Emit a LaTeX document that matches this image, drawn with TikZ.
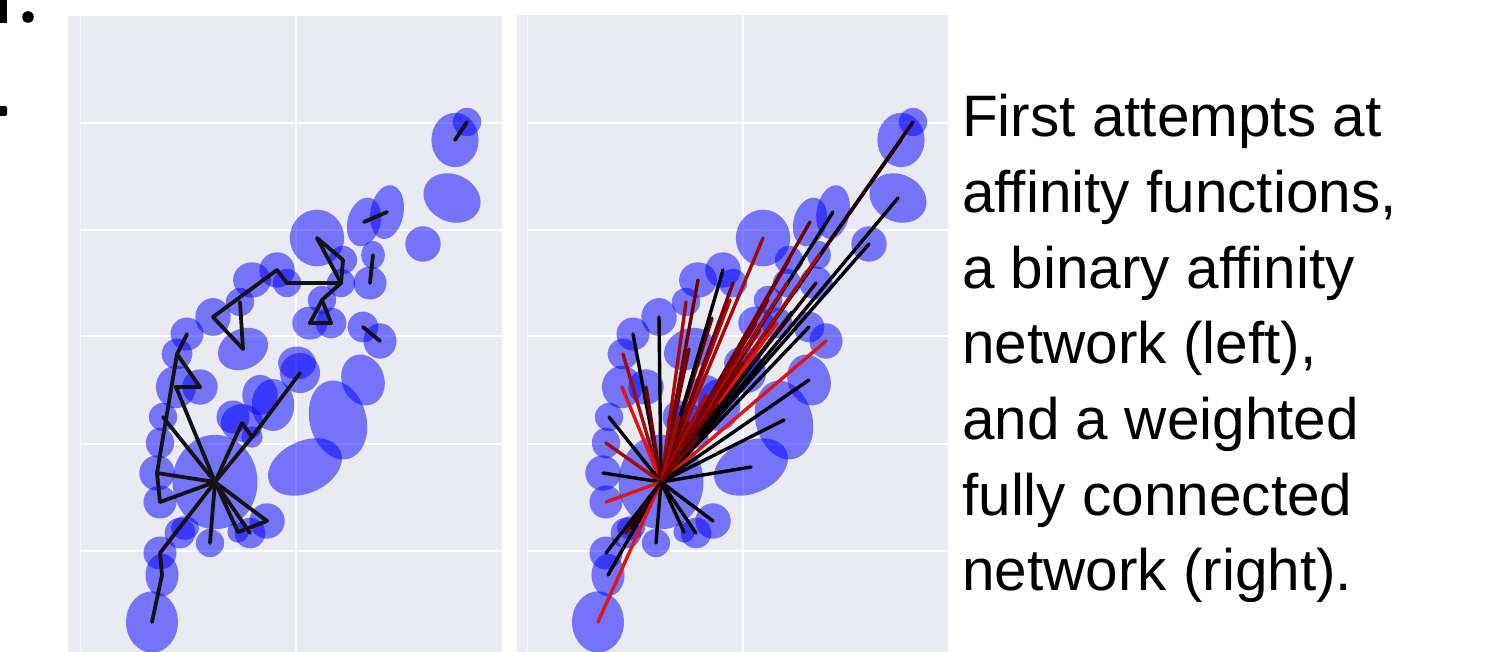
\documentclass[tikz,border=0pt]{standalone}
\usepackage{fontspec}
\setmainfont{Liberation Sans}
\definecolor{panelbg}{RGB}{234,234,242}
\definecolor{dkred}{RGB}{115,0,0}
\definecolor{mdred}{RGB}{165,10,10}
\definecolor{brred}{RGB}{225,20,20}
\definecolor{nblk}{RGB}{35,0,8}
\tikzset{
  blob/.style={fill=blue, fill opacity=0.5},
  gridline/.style={draw=white, line width=2pt},
  edgeline/.style={draw=black!92, line width=3.8pt, line cap=round, line join=round},
  fan/.style={line width=3.4pt, line cap=round},
  caption/.style={anchor=base west, inner sep=0pt, font=\fontsize{58.5}{70}\selectfont}
}
\begin{document}
\begin{tikzpicture}[x=1pt,y=-1pt]
\useasboundingbox (0,0) rectangle (1512,652);
\fill[white] (0,0) rectangle (1512,652);
% cropped fragments at the left border
\fill[black] (0,0) rectangle (7,23);
\fill[black] (28,17) circle (5.8);
\fill[black, rounded corners=2pt] (-3,106) rectangle (7,116);
% panels
\fill[panelbg] (68,16) rectangle (502,652);
\fill[panelbg] (517,15) rectangle (948,652);
\draw[white, line width=1pt, opacity=0.7] (80,16) -- (80,652);
\draw[white, line width=1pt, opacity=0.7] (527,15) -- (527,652);
\foreach \gy in {123,230,336,444,551} {
  \draw[gridline] (80,\gy) -- (502,\gy);
  \draw[gridline] (527,\gy) -- (948,\gy);
}
\draw[gridline] (296,16) -- (296,652);
\draw[gridline] (743,15) -- (743,652);
% blobs (both panels)
\foreach \n/\px/\py/\ra/\rb/\rr in {
 1/455/140/20/23/0, 2/467/122/12/12/0, 3/452/198/25/20/-25, 4/423/244/15/15/0,
 5/364/222/14/21/-15, 6/387/212/14/23/-10, 7/373/255/10/12/0, 8/370/283/14/14/0,
 9/317/238/23/24/0, 10/343/260/12/12/0, 11/341/283/12/12/0, 12/310/323/15/14/0,
 13/331/323/13/13/0, 14/297/363/16/14/0, 15/363/327/13/13/0, 16/380/341/14/15/0,
 17/287/283/12/12/0, 18/277/270/15/15/0, 19/252/280/16/15/0, 20/240/302/12/12/0,
 21/213/317/15/16/0, 22/243/349/22/17/25, 23/187/334/14/14/0, 24/177/354/13/13/0,
 25/176/387/17/18/0, 26/200/387/15/15/0, 27/163/417/12/12/0, 28/160/443/12/13/0,
 29/157/473/15/15/0, 30/160/502/14/14/0, 31/215/482/36/40/0, 32/242/423/18/16/0,
 33/260/395/15/17/0, 34/273/405/18/22/0, 35/300/373/17/17/0, 36/363/380/18/22/20,
 37/338/420/24/34/15, 38/305/467/33/22/25, 39/267/521/15/15/0, 40/250/533/13/13/0,
 41/210/543/12/12/0, 42/180/533/13/13/0, 43/160/553/14/14/0, 44/162/575/14/18/0,
 45/152/622/22/26/0, 46/185/528/12/10/0, 47/233/417/14/14/0, 48/322/300/12/12/0,
 49/252/437/9/9/0, 50/238/532/9/9/0} {
  \coordinate (L\n) at (\px,\py);
  \coordinate (R\n) at (\px+446,\py);
  \fill[blob, rotate around={\rr:(L\n)}] (L\n) ellipse [x radius=1.18*\ra, y radius=1.18*\rb];
  \fill[blob, rotate around={\rr:(R\n)}] (R\n) ellipse [x radius=1.18*\ra, y radius=1.18*\rb];
}
% extra end points hidden inside the right-hand cluster
\coordinate (X1) at (776,300);
\coordinate (X2) at (760,330);
\coordinate (X3) at (792,312);
\coordinate (X4) at (745,352);
\coordinate (X5) at (730,300);
\coordinate (X6) at (712,318);
% binary affinity network (left)
\foreach \a/\b in {1/2, 5/6, 7/8, 15/16, 9/10, 10/11, 11/9, 11/48, 48/12, 12/13, 13/48,
  17/11, 18/17, 21/18, 21/22, 22/20, 23/24, 24/29, 24/26, 26/25, 29/30,
  31/25, 31/27, 31/29, 31/30, 31/32, 32/49, 49/35, 31/49, 31/39, 31/40, 31/50,
  50/39, 31/41, 31/43, 43/44, 44/45} {
  \draw[edgeline] (L\a) -- (L\b);
}
% weighted fully connected network (right)
\foreach \e/\c in {X1/dkred, X2/mdred, X3/nblk, X4/dkred, X5/mdred, X6/dkred} {
  \draw[fan, draw=\c] (R31) -- (\e);
}
\foreach \b/\c in {1/black, 2/nblk, 3/black, 4/black, 5/dkred, 6/black, 7/mdred, 8/nblk,
  9/mdred, 10/dkred, 11/mdred, 12/dkred, 13/brred, 14/dkred, 15/black, 16/brred,
  17/dkred, 18/black, 19/dkred, 20/mdred, 21/black, 22/dkred, 23/black, 24/mdred,
  25/brred, 26/dkred, 27/black, 28/mdred, 29/black, 30/brred, 32/dkred, 33/mdred,
  34/dkred, 35/black, 36/black, 37/black, 38/black, 39/black, 40/black, 41/black,
  42/dkred, 43/black, 44/black, 45/brred, 46/nblk, 47/mdred, 48/dkred, 49/dkred, 50/black} {
  \draw[fan, draw=\c] (R31) -- (R\b);
}
% caption
\node[caption] (t1) at (962,137) {First attempts at};
\node[caption] (t2) at (962,212.6) {affinity functions,};
\node[caption] (t3) at (962,288.2) {a binary affinity};
\node[caption] (t4) at (962,363.8) {network (left),};
\node[caption] (t5) at (962,439.4) {and a weighted};
\node[caption] (t6) at (962,515) {fully connected};
\node[caption] (t7) at (962,590.6) {network (right).};
\end{tikzpicture}
\end{document}
